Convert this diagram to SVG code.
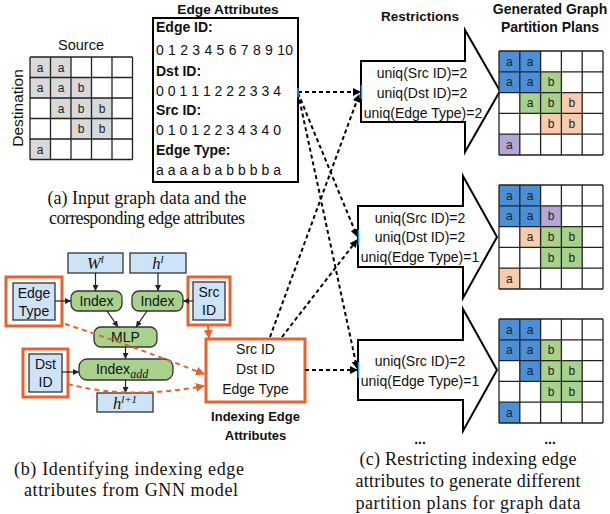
<svg xmlns="http://www.w3.org/2000/svg" width="610" height="514" viewBox="0 0 610 514">
<defs>
<marker id="ab" markerWidth="8" markerHeight="8" refX="7" refY="4" orient="auto" markerUnits="userSpaceOnUse"><path d="M0,0 L8,4 L0,8 Z" fill="#000"/></marker>
<marker id="ao" markerWidth="9" markerHeight="9" refX="8" refY="4.5" orient="auto" markerUnits="userSpaceOnUse"><path d="M0,0 L9,4.5 L0,9 Z" fill="#e8622f"/></marker>
<marker id="as" markerWidth="6" markerHeight="6" refX="6" refY="3" orient="auto" markerUnits="userSpaceOnUse"><path d="M0,0 L6,3 L0,6 Z" fill="#222"/></marker>
<style>
.s{font-family:"Liberation Sans",Arial,sans-serif;fill:#111}
.b{font-family:"Liberation Sans",Arial,sans-serif;font-weight:bold;fill:#111}
.sf{font-family:"Liberation Serif","Times New Roman",serif;fill:#111}
.cap{font-family:"Liberation Serif","Times New Roman",serif;font-size:18px;fill:#111;text-anchor:middle}
.cl{font-family:"Liberation Sans",Arial,sans-serif;font-size:12px;fill:#222;text-anchor:middle}
.bl{fill:#cde3f7;stroke:#333;stroke-width:1.3}
.gr{fill:#a9d18e;stroke:#333;stroke-width:1.3}
.or{fill:none;stroke:#e8622f;stroke-width:3}
.dash{fill:none;stroke:#000;stroke-width:2;stroke-dasharray:4 3;marker-end:url(#ab)}
.odash{fill:none;stroke:#e8622f;stroke-width:2;stroke-dasharray:5 4;marker-end:url(#ao)}
.sa{stroke:#222;stroke-width:1.2;marker-end:url(#as)}
.arr{fill:#fff;stroke:#000;stroke-width:2}
.tick{stroke:#1e9be8;stroke-width:1.5}
</style>
</defs>

<!-- (a) Source grid -->
<g id="source-grid">
<text class="s" x="81" y="50" font-size="14.5" text-anchor="middle">Source</text>
<text class="s" font-size="15.5" text-anchor="middle" transform="translate(23,108) rotate(-90)">Destination</text>
<g fill="#d9d9d9" stroke="none">
<rect x="30" y="57" width="41" height="20.5"/>
<rect x="30" y="77.5" width="61.5" height="20.5"/>
<rect x="50.5" y="98" width="61.5" height="20.5"/>
<rect x="71" y="118.5" width="41" height="20.5"/>
<rect x="30" y="139" width="20.5" height="20.5"/>
</g>
<g stroke="#222" stroke-width="1.3">
<path d="M30,57 V159.5 M50.5,57 V159.5 M71,57 V159.5 M91.5,57 V159.5 M112,57 V159.5 M132.5,57 V159.5 M30,57 H132.5 M30,77.5 H132.5 M30,98 H132.5 M30,118.5 H132.5 M30,139 H132.5 M30,159.5 H132.5"/>
</g>
<text class="cl" x="40" y="71.5">a</text><text class="cl" x="61" y="71.5">a</text>
<text class="cl" x="40" y="92">a</text><text class="cl" x="61" y="92">a</text><text class="cl" x="81" y="92">b</text>
<text class="cl" x="61" y="112.5">a</text><text class="cl" x="81" y="112.5">b</text><text class="cl" x="102" y="112.5">b</text>
<text class="cl" x="81" y="133">b</text><text class="cl" x="102" y="133">b</text>
<text class="cl" x="40" y="153.5">a</text>
</g>

<!-- Edge Attributes -->
<g id="edge-attributes">
<text class="b" x="228" y="14" font-size="13.7" text-anchor="middle">Edge Attributes</text>
<rect x="153" y="18" width="145" height="164" fill="#fff" stroke="#000" stroke-width="2"/>
<text class="b" x="156" y="32" font-size="14">Edge ID:</text>
<text class="s" x="156" y="55" font-size="14" textLength="137" lengthAdjust="spacing">0 1 2 3 4 5 6 7 8 9 10</text>
<text class="b" x="156" y="76" font-size="14">Dst ID:</text>
<text class="s" x="156" y="96" font-size="14" textLength="125" lengthAdjust="spacing">0 0 1 1 1 2 2 2 3 3 4</text>
<text class="b" x="156" y="115" font-size="14">Src ID:</text>
<text class="s" x="156" y="135" font-size="14" textLength="125" lengthAdjust="spacing">0 1 0 1 2 2 3 4 3 4 0</text>
<text class="b" x="156" y="155" font-size="14">Edge Type:</text>
<text class="s" x="156" y="175" font-size="14" textLength="125" lengthAdjust="spacing">a a a a b a b b b b a</text>
</g>

<text class="cap" x="147" y="204" textLength="199" lengthAdjust="spacing">(a) Input graph data and the</text>
<text class="cap" x="147" y="224" textLength="196" lengthAdjust="spacing">corresponding edge attributes</text>

<!-- Restrictions -->
<text class="b" x="420" y="21" font-size="13.5" text-anchor="middle">Restrictions</text>
<text class="b" x="550" y="14" font-size="14" text-anchor="middle">Generated Graph</text>
<text class="b" x="550" y="32" font-size="14" text-anchor="middle">Partition Plans</text>

<g id="restriction-1">
<path class="arr" d="M361,61 H465 V30 L500,91 L465,152 V122 H361 Z"/>
<text class="s" x="422" y="78" font-size="14" text-anchor="middle">uniq(Src ID)=2</text>
<text class="s" x="422" y="98" font-size="14" text-anchor="middle">uniq(Dst ID)=2</text>
<text class="s" x="423" y="118" font-size="14" text-anchor="middle">uniq(Edge Type)=2</text>
</g>
<g id="restriction-2">
<path class="arr" d="M358,206 H463 V176 L497,237 L463,298 V267 H358 Z"/>
<text class="s" x="420" y="223" font-size="14" text-anchor="middle">uniq(Src ID)=2</text>
<text class="s" x="420" y="242" font-size="14" text-anchor="middle">uniq(Dst ID)=2</text>
<text class="s" x="420" y="262" font-size="14" text-anchor="middle">uniq(Edge Type)=1</text>
</g>
<g id="restriction-3">
<path class="arr" d="M358,340 H463 V309 L497,370 L463,431 V400 H358 Z"/>
<text class="s" x="420" y="366" font-size="14" text-anchor="middle">uniq(Src ID)=2</text>
<text class="s" x="420" y="386" font-size="14" text-anchor="middle">uniq(Edge Type)=1</text>
</g>
<text class="b" x="420" y="444" font-size="14" text-anchor="middle">...</text>
<text class="b" x="550" y="444" font-size="14" text-anchor="middle">...</text>

<!-- Partition plan grids -->
<g id="plan-1">
<g stroke="none">
<rect x="499" y="51" width="41.6" height="41.6" fill="#4a8fd8"/>
<rect x="540.6" y="71.8" width="20.8" height="20.8" fill="#a9d18e"/>
<rect x="519.8" y="92.6" width="41.6" height="20.8" fill="#a9d18e"/>
<rect x="561.4" y="92.6" width="20.8" height="20.8" fill="#f8cbad"/>
<rect x="540.6" y="113.4" width="41.6" height="20.8" fill="#f8cbad"/>
<rect x="499" y="134.2" width="20.8" height="20.8" fill="#b4a7d6"/>
</g>
<path stroke="#222" stroke-width="1.3" fill="none" d="M499,51 V155 M519.8,51 V155 M540.6,51 V155 M561.4,51 V155 M582.2,51 V155 M603,51 V155 M499,51 H603 M499,71.8 H603 M499,92.6 H603 M499,113.4 H603 M499,134.2 H603 M499,155 H603"/>
<text class="cl" x="509.4" y="65.5">a</text><text class="cl" x="530.2" y="65.5">a</text>
<text class="cl" x="509.4" y="86.3">a</text><text class="cl" x="530.2" y="86.3">a</text><text class="cl" x="551" y="86.3">b</text>
<text class="cl" x="530.2" y="107.1">a</text><text class="cl" x="551" y="107.1">b</text><text class="cl" x="571.8" y="107.1">b</text>
<text class="cl" x="551" y="127.9">b</text><text class="cl" x="571.8" y="127.9">b</text>
<text class="cl" x="509.4" y="148.7">a</text>
</g>
<g id="plan-2">
<g stroke="none">
<rect x="499" y="185" width="41.6" height="41.6" fill="#4a8fd8"/>
<rect x="540.6" y="205.8" width="20.8" height="20.8" fill="#b4a7d6"/>
<rect x="519.8" y="226.6" width="20.8" height="20.8" fill="#f8cbad"/>
<rect x="540.6" y="226.6" width="41.6" height="41.6" fill="#a9d18e"/>
<rect x="499" y="268.2" width="20.8" height="20.8" fill="#f8cbad"/>
</g>
<path stroke="#222" stroke-width="1.3" fill="none" d="M499,185 V289 M519.8,185 V289 M540.6,185 V289 M561.4,185 V289 M582.2,185 V289 M603,185 V289 M499,185 H603 M499,205.8 H603 M499,226.6 H603 M499,247.4 H603 M499,268.2 H603 M499,289 H603"/>
<text class="cl" x="509.4" y="199.5">a</text><text class="cl" x="530.2" y="199.5">a</text>
<text class="cl" x="509.4" y="220.3">a</text><text class="cl" x="530.2" y="220.3">a</text><text class="cl" x="551" y="220.3">b</text>
<text class="cl" x="530.2" y="241.1">a</text><text class="cl" x="551" y="241.1">b</text><text class="cl" x="571.8" y="241.1">b</text>
<text class="cl" x="551" y="261.9">b</text><text class="cl" x="571.8" y="261.9">b</text>
<text class="cl" x="509.4" y="282.7">a</text>
</g>
<g id="plan-3">
<g stroke="none">
<rect x="499" y="319" width="41.6" height="41.6" fill="#4a8fd8"/>
<rect x="540.6" y="339.8" width="20.8" height="20.8" fill="#a9d18e"/>
<rect x="519.8" y="360.6" width="20.8" height="20.8" fill="#4a8fd8"/>
<rect x="540.6" y="360.6" width="41.6" height="41.6" fill="#a9d18e"/>
<rect x="499" y="402.2" width="20.8" height="20.8" fill="#4a8fd8"/>
</g>
<path stroke="#222" stroke-width="1.3" fill="none" d="M499,319 V423 M519.8,319 V423 M540.6,319 V423 M561.4,319 V423 M582.2,319 V423 M603,319 V423 M499,319 H603 M499,339.8 H603 M499,360.6 H603 M499,381.4 H603 M499,402.2 H603 M499,423 H603"/>
<text class="cl" x="509.4" y="333.5">a</text><text class="cl" x="530.2" y="333.5">a</text>
<text class="cl" x="509.4" y="354.3">a</text><text class="cl" x="530.2" y="354.3">a</text><text class="cl" x="551" y="354.3">b</text>
<text class="cl" x="530.2" y="375.1">a</text><text class="cl" x="551" y="375.1">b</text><text class="cl" x="571.8" y="375.1">b</text>
<text class="cl" x="551" y="395.9">b</text><text class="cl" x="571.8" y="395.9">b</text>
<text class="cl" x="509.4" y="416.7">a</text>
</g>

<!-- (b) GNN model -->
<g id="W-l"><rect class="bl" x="68" y="253" width="55" height="20"/>
<text class="sf" x="95.5" y="269" font-size="16.5" font-style="italic" text-anchor="middle">W<tspan font-size="11" dy="-6">l</tspan></text></g>
<g id="h-l"><rect class="bl" x="130" y="253" width="56" height="20"/>
<text class="sf" x="158" y="269" font-size="16.5" font-style="italic" text-anchor="middle">h<tspan font-size="11" dy="-6">l</tspan></text></g>
<g id="index-1"><rect class="gr" x="71" y="291" width="51" height="20" rx="7"/>
<text class="s" x="96.5" y="306" font-size="14" text-anchor="middle">Index</text></g>
<g id="index-2"><rect class="gr" x="132" y="291" width="51" height="20" rx="7"/>
<text class="s" x="157.5" y="306" font-size="14" text-anchor="middle">Index</text></g>
<g id="mlp"><rect class="gr" x="94" y="327" width="63" height="20" rx="7"/>
<text class="s" x="125.5" y="342" font-size="14" text-anchor="middle">MLP</text></g>
<g id="index-add"><rect class="gr" x="79" y="359" width="94" height="21" rx="8"/>
<text class="s" x="122" y="374" font-size="14" text-anchor="middle">Index<tspan class="sf" font-style="italic" font-size="12" dy="4">add</tspan></text></g>
<g id="h-l1"><rect class="bl" x="97" y="393" width="56" height="19"/>
<text class="sf" x="125" y="409" font-size="16.5" font-style="italic" text-anchor="middle">h<tspan font-size="11" dy="-6">l+1</tspan></text></g>
<g id="edge-type"><rect class="or" x="6" y="277" width="56" height="49"/><rect class="bl" x="13" y="283" width="42" height="37"/>
<text class="s" x="34" y="298" font-size="14" text-anchor="middle">Edge</text>
<text class="s" x="34" y="316" font-size="14" text-anchor="middle">Type</text></g>
<g id="src-id"><rect class="or" x="188" y="277" width="42" height="48"/><rect class="bl" x="193" y="282" width="32" height="38"/>
<text class="s" x="209" y="297" font-size="14" text-anchor="middle">Src</text>
<text class="s" x="209" y="315" font-size="14" text-anchor="middle">ID</text></g>
<g id="dst-id"><rect class="or" x="23" y="349" width="45" height="48"/><rect class="bl" x="29" y="354" width="33" height="38"/>
<text class="s" x="45.5" y="369" font-size="14" text-anchor="middle">Dst</text>
<text class="s" x="45.5" y="387" font-size="14" text-anchor="middle">ID</text></g>

<g id="indexing-edge-attributes">
<rect x="206" y="339" width="99" height="63" fill="#fff" stroke="#e8622f" stroke-width="3"/>
<text class="s" x="255.5" y="354" font-size="14" text-anchor="middle">Src ID</text>
<text class="s" x="255.5" y="374" font-size="14" text-anchor="middle">Dst ID</text>
<text class="s" x="255.5" y="394" font-size="14" text-anchor="middle">Edge Type</text>
<text class="b" x="255.5" y="421" font-size="13" text-anchor="middle">Indexing Edge</text>
<text class="b" x="255.5" y="440" font-size="13" text-anchor="middle">Attributes</text>
</g>

<text class="cap" x="129" y="475" textLength="230" lengthAdjust="spacing">(b) Identifying indexing edge</text>
<text class="cap" x="131" y="496" textLength="214" lengthAdjust="spacing">attributes from GNN model</text>
<text class="cap" x="468" y="465" textLength="217" lengthAdjust="spacing">(c) Restricting indexing edge</text>
<text class="cap" x="468" y="487" textLength="225" lengthAdjust="spacing">attributes to generate different</text>
<text class="cap" x="468" y="509" textLength="225" lengthAdjust="spacing">partition plans for graph data</text>

<!-- connectors -->
<g id="connectors">
<line class="sa" x1="95.5" y1="273" x2="95.5" y2="291"/>
<line class="sa" x1="158" y1="273" x2="158" y2="291"/>
<line class="sa" x1="55" y1="301" x2="71" y2="301"/>
<line class="sa" x1="193" y1="301" x2="183" y2="301"/>
<line class="sa" x1="107" y1="311" x2="118" y2="327"/>
<line class="sa" x1="147" y1="311" x2="136" y2="327"/>
<line class="sa" x1="125.5" y1="347" x2="125.5" y2="359"/>
<line class="sa" x1="62" y1="372" x2="79" y2="372"/>
<line class="sa" x1="125.5" y1="380" x2="125.5" y2="393"/>
<path class="odash" d="M65,324 Q130,345 204,374"/>
<path class="odash" d="M68,384 Q127,400 204,386"/>
<path class="odash" d="M208,326 L209,338"/>
<path class="dash" d="M298,92 L360,92"/>
<path class="dash" d="M298,93 L357,236"/>
<path class="dash" d="M298,93 L357,368"/>
<path class="dash" d="M270,337 L359,95"/>
<path class="dash" d="M282,337 L357,240"/>
<path class="dash" d="M305,370 L357,370"/>
<line class="tick" x1="298" y1="88" x2="298" y2="97"/>
<line class="tick" x1="361.5" y1="85" x2="361.5" y2="99"/>
<line class="tick" x1="358.5" y1="230" x2="358.5" y2="245"/>
<line class="tick" x1="358.5" y1="362" x2="358.5" y2="378"/>
</g>
</svg>
